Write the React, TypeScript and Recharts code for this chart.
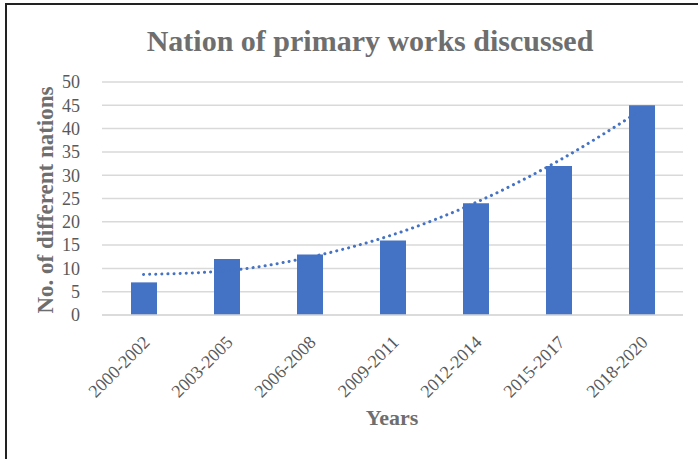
import React from 'react'
import {
  ComposedChart,
  Bar,
  Line,
  XAxis,
  YAxis,
  CartesianGrid,
} from 'recharts'

const periods = [
  '2000-2002',
  '2003-2005',
  '2006-2008',
  '2009-2011',
  '2012-2014',
  '2015-2017',
  '2018-2020',
]
const nations = [7, 12, 13, 16, 24, 32, 45]
// polynomial trend
const trend = [8.7, 9.5, 12.4, 17.2, 24.1, 33.1, 44.0]
const yTicks = [0, 5, 10, 15, 20, 25, 30, 35, 40, 45, 50]

const data = periods.map((p, i) => ({ period: p, nations: nations[i], trend: trend[i] }))

const FONT = '"Liberation Serif", "Times New Roman", serif'
const TEXT = '#595959'

function XTick({ x, y, payload }: any) {
  return (
    <g transform={`translate(${x + 3},${y + 16})`}>
      <text
        x={0}
        y={0}
        dy="0.35em"
        textAnchor="end"
        transform="rotate(-45)"
        fill={TEXT}
        fontSize={18}
        fontFamily={FONT}
      >
        {payload.value}
      </text>
    </g>
  )
}

export default function App() {
  return (
    <div
      style={{
        position: 'absolute',
        left: 0,
        top: 0,
        width: 698,
        height: 459,
        background: '#fff',
      }}
    >
      <div
        style={{
          position: 'absolute',
          left: 5,
          top: 3,
          width: 693,
          height: 454,
          borderLeft: '2px solid #222',
          borderTop: '2px solid #222',
          borderBottom: '1px solid #bbb',
        }}
      />
      <div
        style={{
          position: 'absolute',
          left: 0,
          top: 24,
          width: 740,
          textAlign: 'center',
          fontFamily: FONT,
          fontWeight: 'bold',
          fontSize: 30,
          color: '#6e6e6e',
        }}
      >
        Nation of primary works discussed
      </div>
      <div
        style={{
          position: 'absolute',
          left: 0,
          top: 405,
          width: 784,
          textAlign: 'center',
          fontFamily: FONT,
          fontWeight: 'bold',
          fontSize: 22,
          color: '#6e6e6e',
        }}
      >
        Years
      </div>
      <div
        style={{
          position: 'absolute',
          left: 46,
          top: 200,
          transform: 'translate(-50%, -50%) rotate(-90deg)',
          whiteSpace: 'nowrap',
          fontFamily: FONT,
          fontWeight: 'bold',
          fontSize: 23,
          color: '#6e6e6e',
        }}
      >
        No. of different nations
      </div>
      <ComposedChart
        width={698}
        height={459}
        data={data}
        margin={{ top: 82, right: 15, left: 0, bottom: 0 }}
        style={{ position: 'absolute', left: 0, top: 0 }}
      >
        <CartesianGrid vertical={false} stroke="#d9d9d9" strokeWidth={1.5} />
        <XAxis
          dataKey="period"
          height={144}
          axisLine={{ stroke: '#d9d9d9', strokeWidth: 1.5 }}
          tickLine={false}
          interval={0}
          tick={<XTick />}
        />
        <YAxis
          width={102}
          domain={[0, 50]}
          ticks={yTicks}
          interval={0}
          axisLine={false}
          tickLine={false}
          tickMargin={16}
          tick={{ fill: TEXT, fontSize: 18, fontFamily: FONT }}
        />
        <Bar dataKey="nations" fill="#4472C4" barSize={26} isAnimationActive={false} />
        <Line
          dataKey="trend"
          type="monotone"
          stroke="#4472C4"
          strokeWidth={3}
          strokeDasharray="0.1 6"
          strokeLinecap="round"
          dot={false}
          activeDot={false}
          isAnimationActive={false}
        />
      </ComposedChart>
    </div>
  )
}
